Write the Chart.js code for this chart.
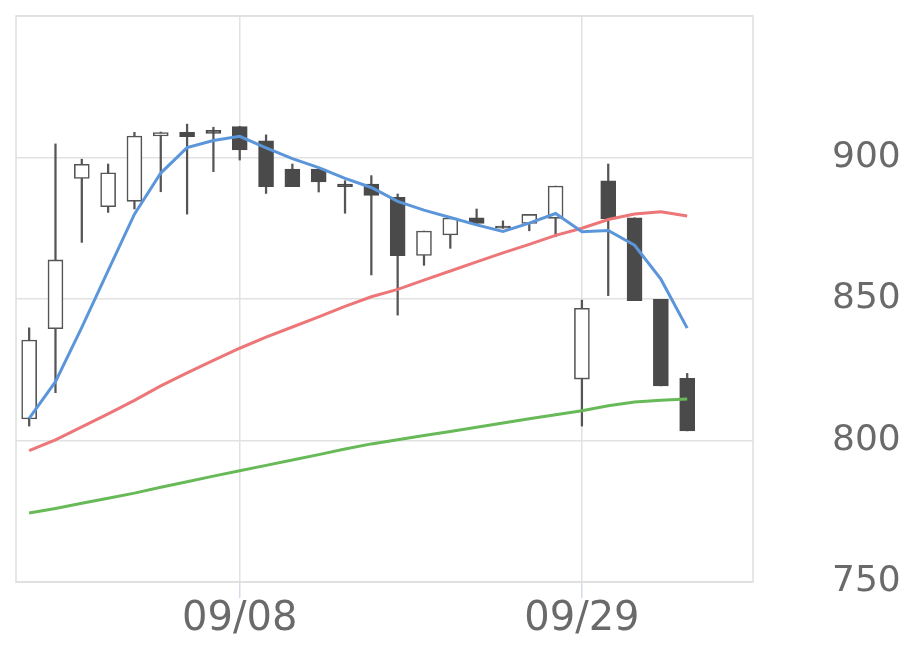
<!DOCTYPE html>
<html><head><meta charset="utf-8">
<script src="https://cdn.jsdelivr.net/npm/chart.js@4/dist/chart.umd.min.js"></script>
<style>html,body{margin:0;padding:0;background:#fff;}#wrap{width:920px;height:669px;}</style>
</head><body><div id="wrap"><canvas id="c" width="920" height="669"></canvas></div>
<script>
const dates = ['08/27','08/28','08/29','09/01','09/02','09/03','09/04','09/05','09/08','09/09','09/10','09/11','09/12','09/16','09/17','09/18','09/19','09/22','09/24','09/25','09/26','09/29','09/30','10/01','10/02','10/03'];
const tickLabels = ['09/08','09/29'];
const openP  = [807.6, 839.5, 892.6, 882.6, 884.5, 907.6, 908.9, 909.6, 910.9, 905.9, 895.9, 895.9, 890.6, 890.6, 885.9, 865.4, 872.6, 878.7, 875.8, 876.7, 878.5, 821.7, 891.8, 878.7, 849.9, 822.0];
const closeP = [835.5, 863.8, 897.6, 894.6, 907.6, 908.8, 907.4, 908.5, 902.7, 889.7, 889.7, 891.4, 889.7, 886.6, 865.3, 874.0, 878.6, 876.7, 875.0, 879.9, 889.9, 846.7, 878.3, 849.4, 819.3, 803.4];
const highP  = [839.8, 904.8, 899.4, 897.7, 908.9, 909.0, 911.8, 910.7, 911.0, 908.0, 897.7, 896.0, 891.8, 893.6, 887.1, 874.0, 878.6, 881.8, 877.6, 879.9, 889.9, 849.6, 897.7, 878.7, 849.9, 823.7];
const lowP   = [805.1, 816.9, 870.0, 880.6, 881.8, 887.9, 880.0, 895.0, 899.1, 887.3, 889.7, 887.8, 880.3, 858.5, 844.3, 861.9, 867.9, 876.7, 875.0, 874.1, 872.0, 805.1, 851.2, 849.4, 819.3, 803.4];
const ma5  = [807.8, 820.8, 840.0, 860.0, 880.0, 894.5, 903.5, 906.0, 907.5, 903.4, 899.6, 896.4, 892.6, 889.4, 884.5, 881.4, 878.8, 876.2, 873.9, 876.8, 880.2, 873.8, 874.2, 869.0, 857.0, 839.7];
const ma25 = [796.4, 800.2, 804.8, 809.4, 814.2, 819.3, 823.9, 828.3, 832.6, 836.5, 840.1, 843.7, 847.4, 850.8, 853.4, 856.7, 859.9, 863.1, 866.3, 869.3, 872.5, 875.0, 878.1, 880.0, 880.8, 879.3];
const ma75 = [774.4, 776.0, 777.8, 779.6, 781.4, 783.5, 785.4, 787.4, 789.3, 791.2, 793.1, 795.0, 797.0, 798.8, 800.3, 801.8, 803.2, 804.7, 806.2, 807.7, 809.1, 810.5, 812.3, 813.6, 814.2, 814.7];
const yTicks = [750, 800, 850, 900];

const labels = dates.concat(['', '']);
const bodies = openP.map((o, i) => [o, closeP[i]]);
const wicks = lowP.map((l, i) => [l, highP[i]]);
const isUp = i => closeP[i] >= openP[i];
const shown = i => i < dates.length && tickLabels.includes(dates[i]);

Chart.defaults.font.family = "'DejaVu Sans', sans-serif";

const frame = {
  id: 'frame',
  beforeDatasetsDraw(chart) {
    const {ctx, chartArea: a} = chart;
    ctx.save();
    ctx.strokeStyle = '#dedede';
    ctx.lineWidth = 1.5;
    ctx.strokeRect(a.left, a.top, a.right - a.left, a.bottom - a.top);
    ctx.restore();
  }
};

const noPad = s => { s.paddingTop = 0; s.paddingBottom = 0; s.paddingLeft = 0; s.paddingRight = 0; };

new Chart(document.getElementById('c'), {
  type: 'bar',
  data: {
    labels,
    datasets: [
      { type: 'line', data: ma5, borderColor: 'rgb(92,150,218)', borderWidth: 3, pointRadius: 0, tension: 0, order: 0 },
      { type: 'line', data: ma25, borderColor: 'rgb(236,118,120)', borderWidth: 3, pointRadius: 0, tension: 0, order: 0 },
      { type: 'line', data: ma75, borderColor: 'rgb(104,186,88)', borderWidth: 3, pointRadius: 0, tension: 0, order: 0 },
      { data: bodies, grouped: false, barThickness: 15, borderSkipped: false, borderWidth: 1.6,
        backgroundColor: c => isUp(c.dataIndex) ? '#ffffff' : '#4a4a4a',
        borderColor: c => isUp(c.dataIndex) ? '#555555' : '#4a4a4a', order: 1 },
      { data: wicks, grouped: false, barThickness: 1.6, borderWidth: 0, backgroundColor: '#555555', order: 2 }
    ]
  },
  options: {
    responsive: false,
    animation: false,
    layout: { padding: { top: 16, left: 16, right: 0, bottom: 0 } },
    plugins: { legend: { display: false }, tooltip: { enabled: false } },
    scales: {
      x: {
        offset: true,
        grid: {
          offset: false,
          color: c => shown(c.index) ? '#e2e2e2' : 'rgba(0,0,0,0)',
          tickColor: c => shown(c.index) ? '#d3dbec' : 'rgba(0,0,0,0)',
          lineWidth: 1.5,
          tickLength: 16
        },
        border: { display: false },
        ticks: {
          autoSkip: false, maxRotation: 0, minRotation: 0,
          callback: (v, i) => shown(i) ? dates[i] : '',
          color: '#6a6a6a', font: { size: 40 }, padding: -2
        },
        afterFit: s => { s.height = 87; noPad(s); }
      },
      y: {
        position: 'right',
        min: 750, max: 950,
        afterBuildTicks: s => { s.ticks = [750, 800, 850, 900, 950].map(v => ({ value: v })); },
        grid: { color: '#e2e2e2', lineWidth: 1.5, drawTicks: false },
        border: { display: false },
        ticks: {
          callback: v => yTicks.includes(v) ? String(v) : '',
          color: '#6a6a6a', font: { size: 36 }, padding: 79
        },
        afterFit: s => { s.width = 167; noPad(s); }
      }
    }
  },
  plugins: [frame]
});
</script>
</body></html>
